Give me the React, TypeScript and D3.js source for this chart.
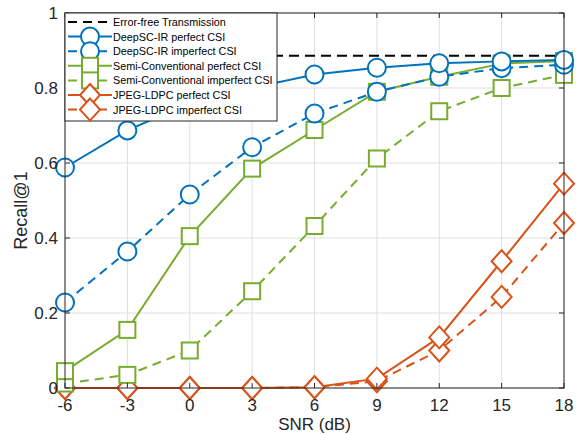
import React, { useRef, useEffect } from 'react';
import * as d3 from 'd3';

// data
const snr = [-6, -3, 0, 3, 6, 9, 12, 15, 18];
const errorFree = 0.886;
const deepPerfect = [0.588, 0.687, 0.76, 0.8, 0.836, 0.854, 0.866, 0.871, 0.875];
const deepImperfect = [0.228, 0.364, 0.516, 0.642, 0.732, 0.79, 0.83, 0.853, 0.862];
const semiPerfect = [0.045, 0.155, 0.405, 0.585, 0.688, 0.79, 0.83, 0.865, 0.872];
const semiImperfect = [0.012, 0.035, 0.1, 0.258, 0.432, 0.612, 0.738, 0.8, 0.835];
const jpegPerfect = [0, 0, 0, 0, 0.002, 0.025, 0.135, 0.338, 0.545];
const jpegImperfect = [0, 0, 0, 0, 0.002, 0.018, 0.1, 0.243, 0.44];
const yTicks = [0, 0.2, 0.4, 0.6, 0.8, 1];

const BLUE = '#0072BD';
const GREEN = '#77AC30';
const ORANGE = '#D95319';

const series = [
	{ name: 'DeepSC-IR perfect CSI', values: deepPerfect, color: BLUE, dash: false, marker: 'circle' },
	{ name: 'DeepSC-IR imperfect CSI', values: deepImperfect, color: BLUE, dash: true, marker: 'circle' },
	{ name: 'Semi-Conventional perfect CSI', values: semiPerfect, color: GREEN, dash: false, marker: 'square' },
	{ name: 'Semi-Conventional imperfect CSI', values: semiImperfect, color: GREEN, dash: true, marker: 'square' },
	{ name: 'JPEG-LDPC perfect CSI', values: jpegPerfect, color: ORANGE, dash: false, marker: 'diamond' },
	{ name: 'JPEG-LDPC imperfect CSI', values: jpegImperfect, color: ORANGE, dash: true, marker: 'diamond' },
];

const FONT = 'Liberation Sans, Arial, Helvetica, sans-serif';

function drawMarker(g, kind, x, y, color) {
	if (kind === 'circle') {
		g.append('circle').attr('cx', x).attr('cy', y).attr('r', 9)
			.attr('fill', 'white').attr('stroke', color).attr('stroke-width', 2);
	} else if (kind === 'square') {
		g.append('rect').attr('x', x - 8).attr('y', y - 8).attr('width', 16).attr('height', 16)
			.attr('fill', 'white').attr('stroke', color).attr('stroke-width', 2);
	} else {
		g.append('path').attr('d', `M${x},${y - 11}L${x + 10},${y}L${x},${y + 11}L${x - 10},${y}Z`)
			.attr('fill', 'white').attr('stroke', color).attr('stroke-width', 2);
	}
}

function Chart() {
	const svgRef = useRef(null);

	useEffect(() => {
		const svg = d3.select(svgRef.current);
		svg.selectAll('*').remove();

		const left = 65, right = 564, top = 13, bottom = 388;
		const x = d3.scaleLinear().domain([-6, 18]).range([left, right]);
		const y = d3.scaleLinear().domain([0, 1]).range([bottom, top]);

		svg.append('rect').attr('x', left).attr('y', top).attr('width', right - left)
			.attr('height', bottom - top).attr('fill', 'white');

		// grid
		const grid = svg.append('g').attr('stroke', '#dfdfdf').attr('stroke-width', 1);
		snr.forEach((v) => {
			grid.append('line').attr('x1', x(v)).attr('x2', x(v)).attr('y1', top).attr('y2', bottom);
		});
		yTicks.forEach((v) => {
			grid.append('line').attr('x1', left).attr('x2', right).attr('y1', y(v)).attr('y2', y(v));
		});

		// error-free
		svg.append('line').attr('x1', left).attr('x2', right)
			.attr('y1', y(errorFree)).attr('y2', y(errorFree))
			.attr('stroke', 'black').attr('stroke-width', 2).attr('stroke-dasharray', '10,6');

		const lineGen = d3.line().x((d, i) => x(snr[i])).y((d) => y(d));

		// draw in reverse so DeepSC ends on top
		[...series].reverse().forEach((s) => {
			const g = svg.append('g');
			g.append('path').datum(s.values).attr('d', lineGen)
				.attr('fill', 'none').attr('stroke', s.color).attr('stroke-width', 2)
				.attr('stroke-dasharray', s.dash ? '9,6' : null);
			s.values.forEach((v, i) => drawMarker(g, s.marker, x(snr[i]), y(v), s.color));
		});

		// axes box
		const axisColor = '#262626';
		const box = svg.append('g').attr('stroke', axisColor).attr('stroke-width', 1).attr('fill', 'none');
		box.append('rect').attr('x', left).attr('y', top).attr('width', right - left).attr('height', bottom - top);
		snr.forEach((v) => {
			box.append('line').attr('x1', x(v)).attr('x2', x(v)).attr('y1', bottom).attr('y2', bottom - 5);
			box.append('line').attr('x1', x(v)).attr('x2', x(v)).attr('y1', top).attr('y2', top + 5);
		});
		yTicks.forEach((v) => {
			box.append('line').attr('x1', left).attr('x2', left + 5).attr('y1', y(v)).attr('y2', y(v));
			box.append('line').attr('x1', right).attr('x2', right - 5).attr('y1', y(v)).attr('y2', y(v));
		});

		// tick labels
		svg.append('g').selectAll('text').data(snr).join('text')
			.attr('x', (d) => x(d)).attr('y', bottom + 23).attr('text-anchor', 'middle')
			.attr('font-family', FONT).attr('font-size', 17).attr('fill', axisColor)
			.text((d) => d);
		svg.append('g').selectAll('text').data(yTicks).join('text')
			.attr('x', left - 7).attr('y', (d) => y(d) + 6).attr('text-anchor', 'end')
			.attr('font-family', FONT).attr('font-size', 17).attr('fill', axisColor)
			.text((d) => d3.format('~g')(d));

		svg.append('text').attr('x', (left + right) / 2).attr('y', 430).attr('text-anchor', 'middle')
			.attr('font-family', FONT).attr('font-size', 17).attr('fill', axisColor).text('SNR (dB)');
		svg.append('text').attr('transform', `translate(27,${(top + bottom) / 2 + 10}) rotate(-90)`)
			.attr('text-anchor', 'middle').attr('font-family', FONT).attr('font-size', 18)
			.attr('fill', axisColor).text('Recall@1');

		// legend
		const leg = svg.append('g');
		leg.append('rect').attr('x', left).attr('y', top).attr('width', 212).attr('height', 108)
			.attr('fill', 'white').attr('stroke', axisColor).attr('stroke-width', 1);
		const entries = [{ name: 'Error-free Transmission', color: 'black', dash: true, marker: null }, ...series];
		entries.forEach((e, i) => {
			const cy = top + 9 + i * 14.6;
			const g = leg.append('g');
			g.append('line').attr('x1', 68).attr('x2', 112).attr('y1', cy).attr('y2', cy)
				.attr('stroke', e.color).attr('stroke-width', 2)
				.attr('stroke-dasharray', e.dash ? '9,6' : null);
			if (e.marker) drawMarker(g, e.marker, 90, cy, e.color);
			g.append('text').attr('x', 113).attr('y', cy + 4).attr('font-family', FONT)
				.attr('font-size', 10.8).attr('fill', '#000').text(e.name);
		});
	}, []);

	return <svg ref={svgRef} width={576} height={434} style={{ display: 'block' }} />;
}

export default function App() {
	return (
		<div style={{ position: 'absolute', left: 0, top: 0 }}>
			<Chart />
		</div>
	);
}
